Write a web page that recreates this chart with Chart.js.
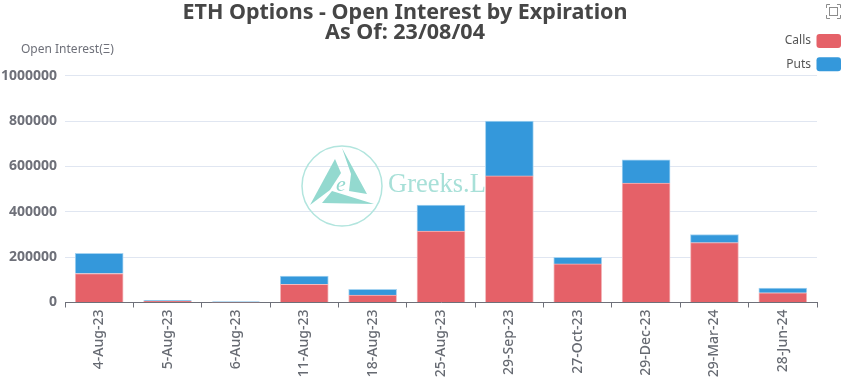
<!DOCTYPE html>
<html>
<head>
    <meta charset="utf-8">
    <title>ETH Options - Open Interest by Expiration</title>
    <style>
        html, body { margin: 0; padding: 0; background: #ffffff; }
        #wrap { width: 850px; height: 381px; position: relative; overflow: hidden; }
    </style>
    <script src="https://cdn.jsdelivr.net/npm/chart.js"></script>
</head>
<body>
    <div id="wrap"><canvas id="chart" width="850" height="381"></canvas></div>
    <script>
        const titleLines = ['ETH Options - Open Interest by Expiration', 'As Of: 23/08/04'];
        const yAxisName = 'Open Interest(Ξ)';
        const expirations = ['4-Aug-23', '5-Aug-23', '6-Aug-23', '11-Aug-23', '18-Aug-23', '25-Aug-23',
            '29-Sep-23', '27-Oct-23', '29-Dec-23', '29-Mar-24', '28-Jun-24'];
        const calls = [128000, 5000, 2000, 80000, 33000, 315000, 558000, 170000, 527000, 264000, 43000];
        const puts = [89000, 4000, 1500, 37000, 25000, 115000, 242000, 29000, 102000, 36000, 21000];

        const FONT = "'Noto Sans', sans-serif";
        const TEAL = '#93d9cf';

        // logo sits behind the bars, the bar for 29-Sep-23 covers the end of the text
        const watermark = {
            id: 'watermark',
            beforeDatasetsDraw(chart) {
                const c = chart.ctx;
                c.save();
                c.strokeStyle = '#b2e5de';
                c.lineWidth = 1.5;
                c.beginPath();
                c.arc(342, 186, 40, 0, Math.PI * 2);
                c.stroke();
                c.fillStyle = TEAL;
                const shapes = [
                    [[335, 159], [341, 173], [330, 190], [310, 205]],
                    [[342, 148], [367, 194], [349, 191], [351, 174]],
                    [[332, 191], [374, 204], [322, 203]]
                ];
                shapes.forEach(function (s) {
                    c.beginPath();
                    s.forEach(function (p, i) { i ? c.lineTo(p[0], p[1]) : c.moveTo(p[0], p[1]); });
                    c.closePath();
                    c.fill();
                });
                c.font = "italic 22px 'Liberation Serif', serif";
                c.textAlign = 'center';
                c.fillText('e', 341, 191);
                c.fillStyle = '#a8e0d8';
                c.font = "26.5px 'Liberation Serif', serif";
                c.textAlign = 'left';
                c.fillText('Greeks.L', 388, 192);
                c.restore();
            }
        };

        // axis name, legend on the top right and the toolbox icon
        const extras = {
            id: 'extras',
            afterDraw(chart) {
                const c = chart.ctx;
                c.save();
                c.textBaseline = 'middle';
                c.font = '12px ' + FONT;
                c.fillStyle = '#6e7079';
                c.textAlign = 'left';
                c.fillText(yAxisName, 21, 50);

                chart.data.datasets.forEach(function (ds, i) {
                    const y = 34 + i * 23.3;
                    c.fillStyle = '#555555';
                    c.textAlign = 'right';
                    c.fillText(ds.label, 811, y + 7);
                    c.fillStyle = ds.backgroundColor;
                    c.beginPath();
                    c.roundRect(816.5, y, 24.5, 14, 3);
                    c.fill();
                });

                c.strokeStyle = '#8c8c8c';
                c.lineWidth = 1;
                c.strokeRect(829.5, 7.5, 8, 8);
                c.beginPath();
                [[826.5, 8, 826.5, 4.5, 830, 4.5], [837, 4.5, 840.5, 4.5, 840.5, 8],
                 [840.5, 15, 840.5, 18.5, 837, 18.5], [830, 18.5, 826.5, 18.5, 826.5, 15]].forEach(function (p) {
                    c.moveTo(p[0], p[1]);
                    c.lineTo(p[2], p[3]);
                    c.lineTo(p[4], p[5]);
                });
                c.stroke();
                c.restore();
            }
        };

        new Chart(document.getElementById('chart'), {
            type: 'bar',
            plugins: [watermark, extras],
            data: {
                labels: expirations,
                datasets: [
                    { label: 'Calls', data: calls, backgroundColor: '#e56168', borderColor: '#f3babd', borderWidth: 1 },
                    { label: 'Puts', data: puts, backgroundColor: '#3498db', borderColor: '#a5d3f1', borderWidth: 1 }
                ]
            },
            options: {
                responsive: false,
                animation: false,
                layout: { padding: { left: -7, right: 33, top: 0, bottom: 0 } },
                datasets: { bar: { barThickness: 48 } },
                plugins: {
                    legend: { display: false },
                    tooltip: { enabled: false },
                    title: {
                        display: true,
                        text: titleLines,
                        color: '#464646',
                        font: { family: FONT, size: 21.5, weight: 'bold', lineHeight: 0.97 },
                        padding: { top: 2, bottom: 32 }
                    }
                },
                scales: {
                    x: {
                        stacked: true,
                        afterFit(axis) { axis.height = 78.5; },
                        border: { color: '#6e7079', width: 1 },
                        grid: { drawOnChartArea: false, drawTicks: true, tickLength: 5, color: '#6e7079' },
                        ticks: {
                            minRotation: 90, maxRotation: 90, autoSkip: false, padding: 2,
                            color: '#666a72',
                            font: { family: FONT, size: 14, weight: '500' }
                        }
                    },
                    y: {
                        stacked: true,
                        min: 0,
                        max: 1000000,
                        afterFit(axis) { axis.width = 72; },
                        border: { display: false },
                        grid: { color: '#e0e6f1', drawTicks: false },
                        ticks: {
                            stepSize: 200000, padding: 8,
                            color: '#6e7079',
                            callback: function (v) { return String(v); },
                            font: { family: FONT, size: 14, weight: 'bold' }
                        }
                    }
                }
            }
        });
    </script>
</body>
</html>
